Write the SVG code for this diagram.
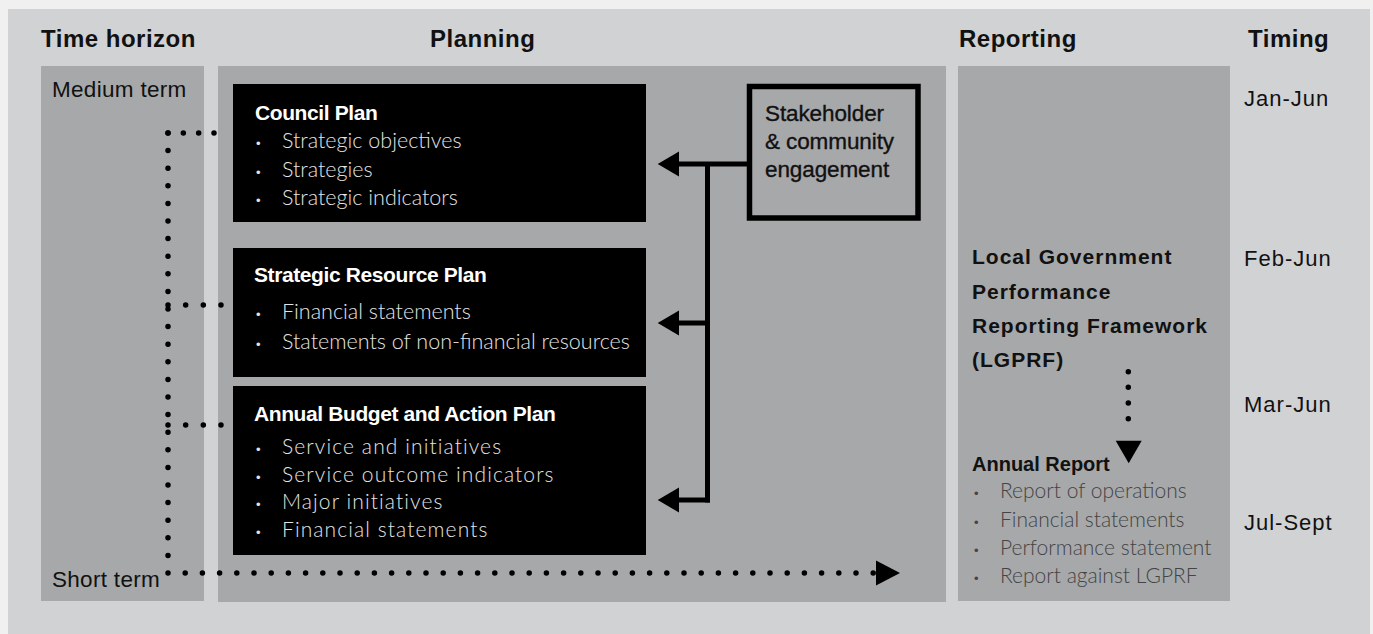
<svg xmlns="http://www.w3.org/2000/svg" width="1373" height="634" viewBox="0 0 1373 634">
<defs>
<style>
.head{font-family:"Liberation Sans",Arial,sans-serif;font-size:24px;font-weight:bold;fill:#111;letter-spacing:0.5px}
.term{font-family:"Liberation Sans",Arial,sans-serif;font-size:22.5px;fill:#111;letter-spacing:0.3px}
.time{font-family:"Liberation Sans",Arial,sans-serif;font-size:22px;fill:#111;letter-spacing:1px}
.btitle{font-family:"Liberation Sans",Arial,sans-serif;font-size:21px;font-weight:bold;fill:#fff;letter-spacing:-0.4px}
.item{font-family:Lato,"Liberation Sans",sans-serif;font-size:21.5px;font-weight:300;fill:#e4e4e4}
.itemw{font-family:Lato,"Liberation Sans",sans-serif;font-size:21px;font-weight:300;fill:#e4e4e4;letter-spacing:1.1px}
.bul{font-family:"Liberation Sans",Arial,sans-serif;font-size:13px;fill:#e4e4e4}
.stk{font-family:"Liberation Sans",Arial,sans-serif;font-size:22.5px;fill:#111;stroke:#111;stroke-width:0.35px;letter-spacing:-0.1px}
.lg{font-family:"Liberation Sans",Arial,sans-serif;font-size:21px;font-weight:bold;fill:#111;letter-spacing:1px}
.rtitle{font-family:"Liberation Sans",Arial,sans-serif;font-size:20px;font-weight:bold;fill:#111;letter-spacing:0px}
.ritem{font-family:Lato,"Liberation Sans",sans-serif;font-size:21px;font-weight:300;fill:#444}
.rbul{font-family:"Liberation Sans",Arial,sans-serif;font-size:13px;fill:#444}
.col{fill:#a7a8aa}
.box{fill:#000}
.dot{fill:none;stroke:#000;stroke-width:5.5;stroke-linecap:round}
.solid{fill:none;stroke:#000;stroke-width:5}
</style>
</defs>
<rect x="0" y="0" width="1373" height="634" fill="#f0f0f0"/>
<rect x="8" y="9" width="1362" height="625" fill="#d1d2d4"/>

<g id="headers">
<text class="head" x="41" y="47">Time horizon</text>
<text class="head" x="430" y="47">Planning</text>
<text class="head" x="959" y="47">Reporting</text>
<text class="head" x="1248" y="47">Timing</text>
</g>

<g id="time-horizon">
<rect class="col" x="41" y="66" width="163" height="535"/>
<text class="term" x="52" y="97">Medium term</text>
<text class="term" x="52" y="587">Short term</text>
</g>

<g id="planning">
<rect class="col" x="218" y="66" width="728" height="536"/>
</g>

<g id="reporting">
<rect class="col" x="958" y="66" width="272" height="535"/>
</g>

<g id="council-plan">
<rect class="box" x="233" y="84" width="413" height="138"/>
<text class="btitle" x="255" y="120">Council Plan</text>
<text class="bul" x="256" y="148">•</text><text class="item" x="282" y="148">Strategic objectives</text>
<text class="bul" x="256" y="177">•</text><text class="item" x="282" y="177">Strategies</text>
<text class="bul" x="256" y="205">•</text><text class="item" x="282" y="205">Strategic indicators</text>
</g>

<g id="strategic-resource-plan">
<rect class="box" x="233" y="248" width="413" height="129"/>
<text class="btitle" x="254" y="282">Strategic Resource Plan</text>
<text class="bul" x="256" y="319">•</text><text class="item" x="282" y="319">Financial statements</text>
<text class="bul" x="256" y="349">•</text><text class="item" x="282" y="349">Statements of non-financial resources</text>
</g>

<g id="annual-budget">
<rect class="box" x="233" y="386" width="413" height="169"/>
<text class="btitle" x="254" y="421">Annual Budget and Action Plan</text>
<text class="bul" x="256" y="454">•</text><text class="itemw" x="282" y="454">Service and initiatives</text>
<text class="bul" x="256" y="482">•</text><text class="itemw" x="282" y="482">Service outcome indicators</text>
<text class="bul" x="256" y="509">•</text><text class="itemw" x="282" y="509">Major initiatives</text>
<text class="bul" x="256" y="537">•</text><text class="itemw" x="282" y="537">Financial statements</text>
</g>

<g id="stakeholder">
<rect x="749.5" y="86.5" width="168.5" height="131.5" fill="#a7a8aa" stroke="#000" stroke-width="5.5"/>
<text class="stk" x="765" y="121">Stakeholder</text>
<text class="stk" x="765" y="149">&amp; community</text>
<text class="stk" x="765" y="177">engagement</text>
</g>

<g id="lgprf">
<text class="lg" x="972" y="264">Local Government</text>
<text class="lg" x="972" y="299">Performance</text>
<text class="lg" x="972" y="333">Reporting Framework</text>
<text class="lg" x="972" y="367">(LGPRF)</text>
</g>

<g id="annual-report">
<text class="rtitle" x="972" y="471">Annual Report</text>
<text class="rbul" x="974" y="498">•</text><text class="ritem" x="1000" y="498">Report of operations</text>
<text class="rbul" x="974" y="527">•</text><text class="ritem" x="1000" y="527">Financial statements</text>
<text class="rbul" x="974" y="555">•</text><text class="ritem" x="1000" y="555">Performance statement</text>
<text class="rbul" x="974" y="583">•</text><text class="ritem" x="1000" y="583">Report against LGPRF</text>
</g>

<g id="timing">
<text class="time" x="1244" y="106">Jan-Jun</text>
<text class="time" x="1244" y="266">Feb-Jun</text>
<text class="time" x="1244" y="412">Mar-Jun</text>
<text class="time" x="1244" y="530">Jul-Sept</text>
</g>

<g id="connectors">
<path class="solid" d="M747 164H678"/>
<path class="solid" d="M707.5 164V502.5"/>
<path class="solid" d="M710 323H678"/>
<path class="solid" d="M710 500H678"/>
<polygon points="657.7,164 679,151.5 679,176.5" fill="#000"/>
<polygon points="657.7,323 679,310.5 679,335.5" fill="#000"/>
<polygon points="657.7,500 679,487.5 679,512.5" fill="#000"/>

<path class="dot" d="M168 133V573" stroke-dasharray="0 17.6"/>
<path class="dot" d="M168 133H214" stroke-dasharray="0 15.33"/>
<path class="dot" d="M168 305H221" stroke-dasharray="0 17.66"/>
<path class="dot" d="M168 425H221" stroke-dasharray="0 17.66"/>
<path class="dot" d="M168 573H873.3" stroke-dasharray="0 17.2"/>
<polygon points="876,560.5 900,573 876,585.5" fill="#000"/>

<path class="dot" d="M1128.3 371.7V434.3" stroke-dasharray="0 15.65"/>
<polygon points="1115.7,440.7 1141.7,440.7 1128.7,463.3" fill="#000"/>
</g>
</svg>
